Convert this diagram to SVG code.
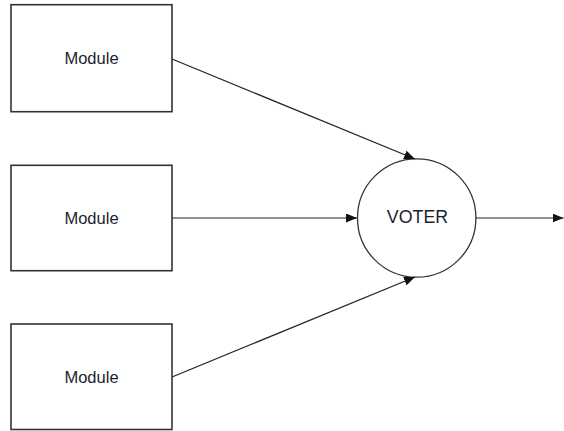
<svg xmlns="http://www.w3.org/2000/svg" width="564" height="431" viewBox="0 0 564 431">
  <style>
    .box { fill: #fff; stroke: #333; stroke-width: 1.6; }
    .voter { fill: #fff; stroke: #333; stroke-width: 1.3; }
    .lbl { font-family: "Liberation Sans", Arial, sans-serif; fill: #1e1e30; text-anchor: middle; }
    .wire { fill: none; stroke: #222; stroke-width: 1.2; marker-end: url(#head); }
  </style>
  <defs>
    <marker id="head" markerUnits="userSpaceOnUse" markerWidth="12" markerHeight="9" refX="11" refY="4.5" orient="auto">
      <path d="M0,0 L11,4.5 L0,9 Z" fill="#111"/>
    </marker>
  </defs>
  <rect width="564" height="431" fill="#fff"/>

  <g id="module-1">
    <rect class="box" x="11" y="4.7" width="161" height="107"/>
    <text class="lbl" x="91.5" y="63.5" font-size="16.5">Module</text>
  </g>
  <g id="module-2">
    <rect class="box" x="11" y="165.3" width="161" height="105.4"/>
    <text class="lbl" x="91.5" y="223.5" font-size="16.5">Module</text>
  </g>
  <g id="module-3">
    <rect class="box" x="11" y="324" width="161" height="105.5"/>
    <text class="lbl" x="91.5" y="382.5" font-size="16.5">Module</text>
  </g>
  <g id="voter">
    <circle class="voter" cx="416.7" cy="218" r="59.2"/>
    <text class="lbl" x="417.5" y="222.5" font-size="17.8">VOTER</text>
  </g>

  <g id="connectors">
    <line class="wire" x1="172" y1="59" x2="415" y2="159"/>
    <line class="wire" x1="172" y1="218" x2="357" y2="218"/>
    <line class="wire" x1="172" y1="377" x2="415" y2="277"/>
    <line class="wire" x1="476" y1="218" x2="563.5" y2="218"/>
  </g>
</svg>
